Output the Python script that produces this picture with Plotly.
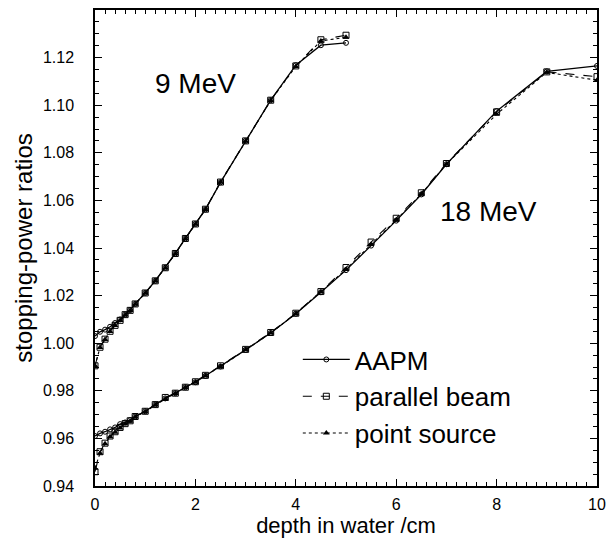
import plotly.graph_objects as go

# ---------------- data ----------------
depth_9 = [0, 0.1, 0.2, 0.3, 0.4, 0.5, 0.6, 0.7, 0.8, 1.0, 1.2, 1.4, 1.6, 1.8,
           2.0, 2.2, 2.5, 3.0, 3.5, 4.0, 4.5, 5.0]
aapm_9 = [1.0030, 1.0048, 1.0057, 1.0069, 1.0085, 1.0100, 1.0120, 1.0139, 1.0165,
          1.0211, 1.0262, 1.0317, 1.0377, 1.0440, 1.0501, 1.0562, 1.0676, 1.0850,
          1.1021, 1.1168, 1.1252, 1.1262]
parallel_9 = [0.9905, 0.9983, 1.0017, 1.0050, 1.0075, 1.0096, 1.0120, 1.0138, 1.0165,
              1.0211, 1.0262, 1.0317, 1.0377, 1.0440, 1.0501, 1.0563, 1.0677, 1.0850,
              1.1021, 1.1165, 1.1275, 1.1294]
point_9 = [0.9905, 0.9982, 1.0016, 1.0049, 1.0074, 1.0095, 1.0119, 1.0137, 1.0164,
           1.0210, 1.0261, 1.0316, 1.0376, 1.0439, 1.0500, 1.0562, 1.0676, 1.0849,
           1.1020, 1.1163, 1.1270, 1.1285]

depth_18 = [0, 0.1, 0.2, 0.3, 0.4, 0.5, 0.6, 0.7, 0.8, 1.0, 1.2, 1.4, 1.6, 1.8,
            2.0, 2.2, 2.5, 3.0, 3.5, 4.0, 4.5, 5.0, 5.5, 6.0, 6.5, 7.0, 8.0, 9.0, 10.0]
aapm_18 = [0.9610, 0.9621, 0.9628, 0.9638, 0.9646, 0.9660, 0.9667, 0.9677, 0.9692,
           0.9714, 0.9742, 0.9768, 0.9790, 0.9815, 0.9836, 0.9863, 0.9902, 0.9972,
           1.0043, 1.0124, 1.0214, 1.0307, 1.0410, 1.0515, 1.0625, 1.0752, 1.0975,
           1.1142, 1.1165]
parallel_18 = [0.9460, 0.9544, 0.9580, 0.9610, 0.9628, 0.9646, 0.9662, 0.9674, 0.9692,
               0.9714, 0.9742, 0.9772, 0.9790, 0.9815, 0.9838, 0.9865, 0.9905, 0.9974,
               1.0045, 1.0126, 1.0217, 1.0318, 1.0425, 1.0525, 1.0632, 1.0755, 1.0972,
               1.1140, 1.1120]
point_18 = [0.9475, 0.9538, 0.9578, 0.9607, 0.9626, 0.9644, 0.9660, 0.9672, 0.9690,
            0.9712, 0.9740, 0.9766, 0.9789, 0.9814, 0.9836, 0.9863, 0.9902, 0.9972,
            1.0043, 1.0124, 1.0215, 1.0310, 1.0415, 1.0518, 1.0627, 1.0752, 1.0962,
            1.1138, 1.1105]

series_names = ["AAPM", "parallel beam", "point source"]
energy_labels = ["9 MeV", "18 MeV"]
label_pos = [(2.0, 1.109), (7.83, 1.0553)]
y_tick_values = [0.94, 0.96, 0.98, 1.00, 1.02, 1.04, 1.06, 1.08, 1.10, 1.12]
x_tick_values = [0, 2, 4, 6, 8, 10]

FONT = "Liberation Sans, Arial, Helvetica, sans-serif"

styles = {
    "AAPM": dict(line=dict(color="black", width=1.3, dash="solid"),
                 marker=dict(symbol="circle-open", size=5, color="black",
                             line=dict(width=1, color="black"))),
    "parallel beam": dict(line=dict(color="black", width=1.1, dash="dash"),
                          marker=dict(symbol="square-open", size=6, color="black",
                                      line=dict(width=1, color="black"))),
    "point source": dict(line=dict(color="black", width=1.1, dash="dot"),
                         marker=dict(symbol="triangle-up", size=6, color="black",
                                     line=dict(width=0))),
}

fig = go.Figure()
datasets = [
    (depth_9, [aapm_9, parallel_9, point_9], True),
    (depth_18, [aapm_18, parallel_18, point_18], False),
]
for depth, ys, show in datasets:
    for name, y in zip(series_names, ys):
        fig.add_trace(go.Scatter(
            x=depth, y=y, mode="lines+markers", name=name,
            legendgroup=name, showlegend=show, **styles[name]))

for txt, (x, y) in zip(energy_labels, label_pos):
    fig.add_annotation(x=x, y=y, text=txt, showarrow=False,
                       font=dict(family=FONT, size=28, color="black"))

axis_common = dict(
    showline=True, linecolor="black", linewidth=1.5, mirror="ticks",
    ticks="inside", ticklen=7, tickwidth=1, tickcolor="black",
    showgrid=False, zeroline=False, automargin=False,
    tickfont=dict(family=FONT, size=16, color="black"),
)

fig.update_layout(
    width=608, height=539,
    margin=dict(l=95, r=11, t=10, b=53),
    paper_bgcolor="white", plot_bgcolor="white",
    font=dict(family=FONT, color="black"),
    xaxis=dict(range=[0, 10], tickmode="array", tickvals=x_tick_values,
               minor=dict(tickmode="linear", tick0=0, dtick=0.2, ticklen=4,
                          ticks="inside", tickcolor="black"),
               title=dict(text="depth in water /cm", font=dict(family=FONT, size=22),
                          standoff=0),
               ticklabelstandoff=3,
               **axis_common),
    yaxis=dict(range=[0.94, 1.14], tickmode="array", tickvals=y_tick_values,
               tickformat=".2f",
               minor=dict(tickmode="linear", tick0=0.94, dtick=0.005, ticklen=4,
                          ticks="inside", tickcolor="black"),
               title=dict(text="stopping-power ratios", font=dict(family=FONT, size=24),
                          standoff=4),
               ticklabelstandoff=16,
               **axis_common),
    legend=dict(x=0.404, y=0.315, xanchor="left", yanchor="top",
                bgcolor="rgba(0,0,0,0)", borderwidth=0, itemwidth=47,
                font=dict(family=FONT, size=26, color="black"),
                tracegroupgap=0),
    showlegend=True,
)

fig.write_html("out.html")
